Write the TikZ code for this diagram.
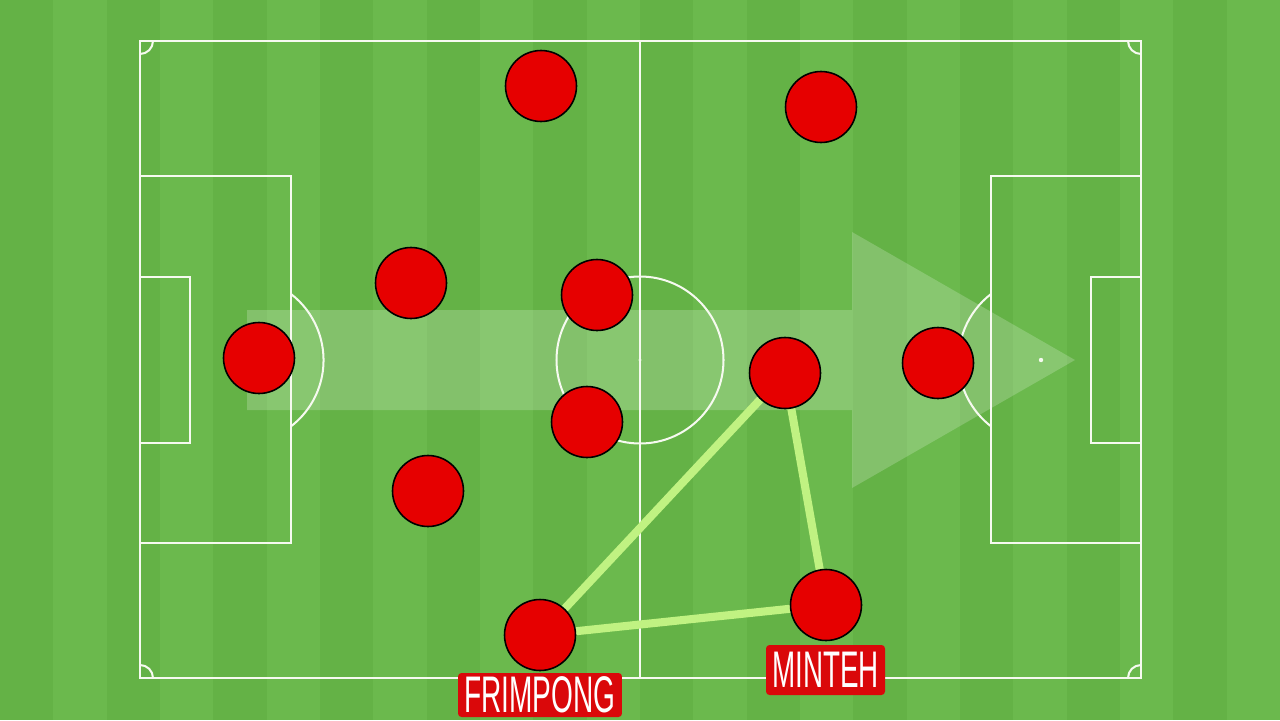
\documentclass[tikz,border=0pt]{standalone}
\usepackage{fontspec}
\setmainfont{Liberation Sans}
\definecolor{grassA}{RGB}{100,178,70}
\definecolor{grassB}{RGB}{107,185,77}
\definecolor{pline}{RGB}{246,250,240}
\definecolor{pred}{RGB}{230,0,0}
\definecolor{boxred}{RGB}{218,8,10}
\definecolor{linkc}{RGB}{192,242,130}
\pgfdeclarelayer{bg}
\pgfdeclarelayer{mid}
\pgfsetlayers{bg,mid,main}
\begin{document}
\begin{tikzpicture}[x=0.02cm,y=-0.02cm,
  pitch/.style={draw=pline,line width=1.15pt},
  player/.style={circle,fill=pred,draw=black,line width=0.9pt,minimum size=1.42cm,inner sep=0pt},
  link/.style={draw=linkc,line width=4.6pt},
  namebox/.style={fill=boxred,rounded corners=2pt,text=white,inner sep=0pt,
    font=\fontsize{29.3pt}{30pt}\selectfont},
  flow/.style={fill=white,opacity=0.2}]
\useasboundingbox (0,0) rectangle (1280,720);
\begin{pgfonlayer}{bg}
  % grass
  \fill[grassA] (0,0) rectangle (1280,720);
  \foreach \i in {1,3,...,23} {
    \fill[grassB] (\i*53.333,0) rectangle ++(53.333,720);
  }
  % attacking arrow
  \fill[flow] (247,310) -- (852,310) -- (852,232) -- (1075,360) -- (852,488) -- (852,410) -- (247,410) -- cycle;
  % pitch markings
  \draw[pitch] (140,41) rectangle (1141,678);
  \draw[pitch] (640,41) -- (640,678);
  \draw[pitch] (640,360) circle[radius=83.5];
  \fill[pline] (640,360) circle[radius=1.6];
  \draw[pitch] (140,176) rectangle (291,543);
  \draw[pitch] (140,277) rectangle (190,443);
  \draw[pitch] (991,176) rectangle (1141,543);
  \draw[pitch] (1091,277) rectangle (1141,443);
  \draw[pitch] (291,294) arc[start angle=-52.4,end angle=52.4,radius=83.5];
  \draw[pitch] (991,294) arc[start angle=232.4,end angle=127.6,radius=83.5];
  \fill[pline] (240,360) circle[radius=2.2];
  \fill[pline] (1041,360) circle[radius=2.2];
  \draw[pitch] (153,41) arc[start angle=0,end angle=90,radius=13];
  \draw[pitch] (1128,41) arc[start angle=180,end angle=90,radius=13];
  \draw[pitch] (153,678) arc[start angle=0,end angle=-90,radius=13];
  \draw[pitch] (1128,678) arc[start angle=180,end angle=270,radius=13];
\end{pgfonlayer}
% players
\node[player] (p1) at (541,86) {};
\node[player] (p2) at (821,107) {};
\node[player] (p3) at (411,283) {};
\node[player] (p4) at (597,295) {};
\node[player] (p5) at (259,358) {};
\node[player] (p6) at (785,373) {};
\node[player] (p7) at (938,363) {};
\node[player] (p8) at (587,422) {};
\node[player] (p9) at (428,491) {};
\node[player] (minteh) at (826,605) {};
\node[player] (frimpong) at (540,635) {};
% passing links
\begin{pgfonlayer}{mid}
  \draw[link] (frimpong.center) -- (p6.center);
  \draw[link] (frimpong.center) -- (minteh.center);
  \draw[link] (p6.center) -- (minteh.center);
\end{pgfonlayer}
% name labels
\node[namebox,minimum width=3.28cm,minimum height=0.88cm] (lfrim) at (540,695) {\scalebox{0.545}[1]{FRIMPONG}};
\node[namebox,minimum width=2.38cm,minimum height=1cm] (lmint) at (825.5,670) {\scalebox{0.54}[1]{MINTEH}};
\end{tikzpicture}
\end{document}
